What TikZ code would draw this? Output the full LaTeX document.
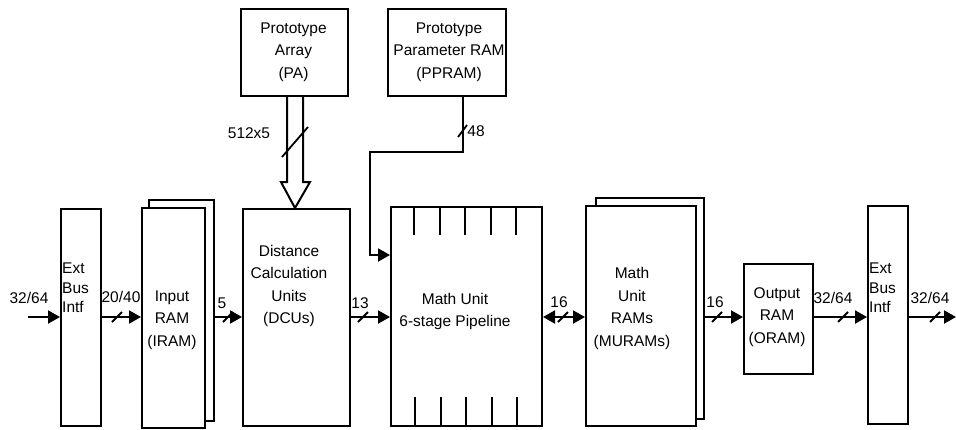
\documentclass[tikz,border=0pt]{standalone}
\usepackage{fontspec}
\setmainfont{Liberation Sans}
\usetikzlibrary{arrows.meta}
\tikzset{
  box/.style={draw, line width=2pt, fill=white, inner sep=0pt, anchor=north west},
  txt/.style={font=\fontsize{15.5}{22.5}\selectfont, align=center, inner sep=0pt},
  lbl/.style={font=\fontsize{15.5}{18}\selectfont, inner sep=0pt},
  conn/.style={line width=2pt},
  arr/.style={line width=2pt, -{Triangle[length=12pt,width=13pt]}},
  darr/.style={line width=2pt, {Triangle[length=12pt,width=13pt]}-{Triangle[length=12pt,width=13pt]}},
  bmark/.style={line width=1.8pt}
}
\newcommand\busmark[1]{\draw[bmark] ([shift={(-5,5)}]#1) -- ([shift={(5,-5)}]#1);}
\begin{document}
\begin{tikzpicture}[x=1pt,y=-1pt]
\useasboundingbox (0,0) rectangle (956,429);
% boxes
\node[box, minimum width=40, minimum height=217] (ebi1) at (60,208) {};
\node[txt, align=left, font=\fontsize{15.5}{19.5}\selectfont, anchor=west] (ebi1t) at (62,288) {Ext\\Bus\\Intf};
\node[box, minimum width=65, minimum height=221] (iramb) at (148,199) {};
\node[box, minimum width=63, minimum height=220] (iram) at (141,207) {};
\node[txt] (iramt) at (172,320) {Input\\RAM\\(IRAM)};
\node[box, minimum width=107, minimum height=217] (dcu) at (242,208) {};
\node[txt] (dcut) at (289,286) {Distance\\Calculation\\Units\\(DCUs)};
\node[box, minimum width=107, minimum height=87] (pa) at (240,8) {};
\node[txt] (pat) at (293.5,52) {Prototype\\Array\\(PA)};
\node[box, minimum width=118, minimum height=87] (ppram) at (387,8) {};
\node[txt] (ppramt) at (449,52) {Prototype\\Parameter RAM\\(PPRAM)};
\node[box, minimum width=151, minimum height=219] (mu) at (390,206) {};
\node[txt] (mut) at (455,311.5) {Math Unit\\6-stage Pipeline};
\foreach \x in {414,440,465,491,516}{
  \draw[conn] (\x,206) -- (\x,235);
  \draw[conn] (\x+1,397) -- (\x+1,425);
}
\node[box, minimum width=108, minimum height=221] (muramb) at (595,197) {};
\node[box, minimum width=110, minimum height=220] (muram) at (585,205) {};
\node[txt] (muramt) at (632,308.5) {Math\\Unit\\RAMs\\(MURAMs)};
\node[box, minimum width=69, minimum height=110] (oram) at (743,263) {};
\node[txt] (oramt) at (777,317) {Output\\RAM\\(ORAM)};
\node[box, minimum width=40, minimum height=218] (ebi2) at (867,205) {};
\node[txt, align=left, font=\fontsize{15.5}{19.5}\selectfont, anchor=west] (ebi2t) at (869,288) {Ext\\Bus\\Intf};
% connectors
\coordinate (in) at (28,317);
\coordinate (out) at (956,317);
\draw[arr] (in) -- (ebi1.west |- in);
\draw[arr] (ebi1.east |- in) -- (iram.west |- in);
\draw[arr] (iramb.east |- in) -- (dcu.west |- in);
\draw[arr] (dcu.east |- in) -- (mu.west |- in);
\draw[darr] (mu.east |- in) -- (muram.west |- in);
\draw[arr] (muramb.east |- in) -- (oram.west |- in);
\draw[arr] (oram.east |- in) -- (ebi2.west |- in);
\draw[arr] (ebi2.east |- in) -- (out);
% PPRAM feed
\coordinate (pp1) at (463,152);
\coordinate (pp2) at (370,152);
\coordinate (pp3) at (370,255);
\draw[arr] (ppram.south -| pp1) -- (pp1) -- (pp2) -- (pp3) -- (mu.west |- pp3);
% PA hollow arrow
\draw[line width=2pt, fill=white, line join=miter] (pa.south -| 287,0) -- (287,182) -- (281,182) -- (dcu.north -| 295,0) -- (310,182) -- (303,182) -- (pa.south -| 303,0);
\draw[bmark] (282,157) -- (308,127);
% bus marks
\busmark{117,317}
\busmark{228,317}
\busmark{363,317}
\busmark{563,317}
\busmark{717,317}
\busmark{843,317}
\busmark{935,317}
\draw[bmark] (458,137) -- (467,125);
% labels
\node[lbl] (l1) at (29,298) {32/64};
\node[lbl] (l2) at (121,297) {20/40};
\node[lbl] (l3) at (222,303) {5};
\node[lbl] (l4) at (360,303) {13};
\node[lbl] (l5) at (559,302) {16};
\node[lbl] (l6) at (715,302) {16};
\node[lbl] (l7) at (833,298) {32/64};
\node[lbl] (l8) at (930,298) {32/64};
\node[lbl] (l9) at (249,133) {512x5};
\node[lbl] (l10) at (476,131) {48};
\end{tikzpicture}
\end{document}
